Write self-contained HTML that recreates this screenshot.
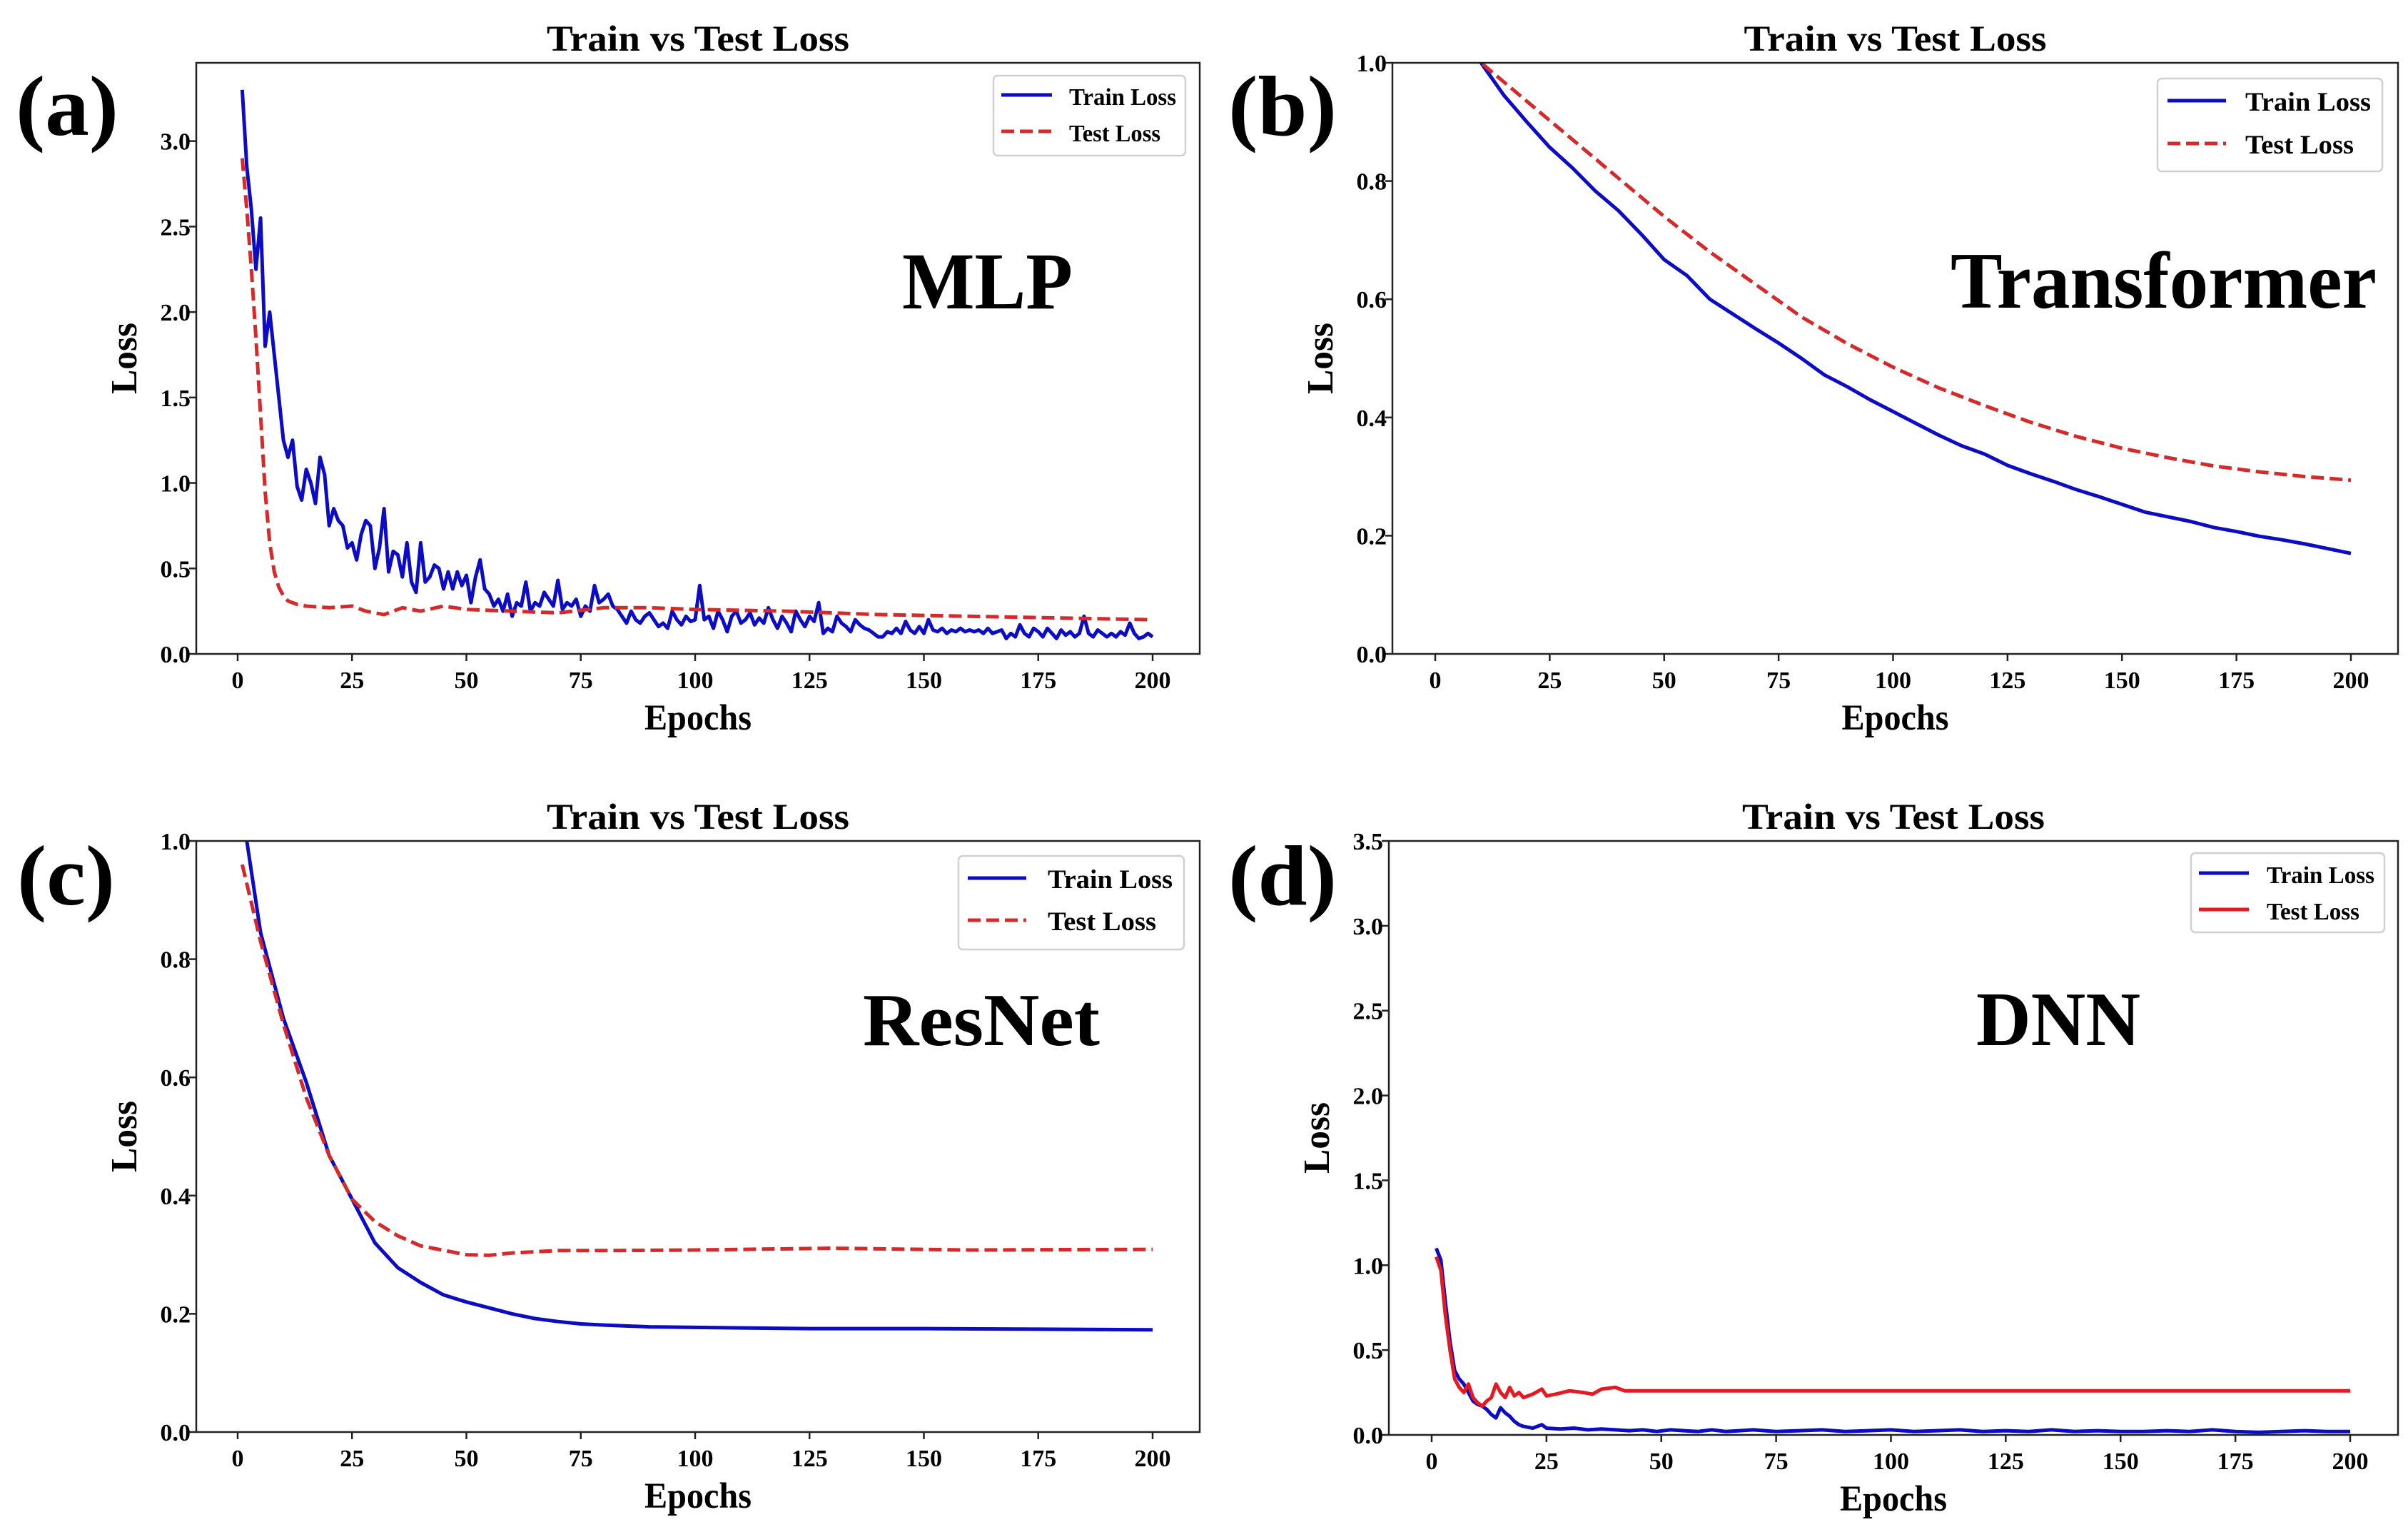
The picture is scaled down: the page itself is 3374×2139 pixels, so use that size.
<!DOCTYPE html>
<html><head><meta charset="utf-8">
<style>
html,body{margin:0;padding:0;background:#fff;}
svg{display:block;}
text{font-family:"Liberation Serif",serif;font-weight:bold;fill:#000;}
</style></head>
<body>
<svg id="fig" xmlns="http://www.w3.org/2000/svg" width="3374" height="2139" viewBox="0 0 3374 2139"></svg>
<script>
// ---------- DATA ----------
const xTicks = [0,25,50,75,100,125,150,175,200];
const yTicksA = [0,0.5,1.0,1.5,2.0,2.5,3.0];
const yTicksB = [0,0.2,0.4,0.6,0.8,1.0];
const yTicksC = [0,0.2,0.4,0.6,0.8,1.0];
const yTicksD = [0,0.5,1.0,1.5,2.0,2.5,3.0,3.5];

// (a) MLP
const mlpTrain = [
3.3,2.85,2.6,2.25,2.55,1.8,2.0,1.75,1.5,1.25,
1.15,1.25,0.98,0.9,1.08,1.0,0.88,1.15,1.05,0.75,
0.85,0.78,0.75,0.62,0.65,0.55,0.7,0.78,0.75,0.5,
0.62,0.85,0.48,0.6,0.58,0.45,0.65,0.42,0.36,0.65,
0.42,0.45,0.52,0.5,0.38,0.48,0.38,0.48,0.4,0.46,
0.3,0.45,0.55,0.38,0.35,0.28,0.32,0.25,0.35,0.22,
0.3,0.28,0.42,0.25,0.3,0.28,0.36,0.32,0.28,0.43,
0.26,0.3,0.28,0.32,0.22,0.28,0.25,0.4,0.3,0.32,
0.35,0.28,0.26,0.22,0.18,
0.25,0.2,0.18,0.22,0.24,0.2,0.16,0.18,0.15,0.25,0.2,0.17,0.22,0.19,0.2,
0.4,0.2,0.22,0.15,0.25,0.2,0.13,0.22,0.25,0.18,0.2,0.24,0.17,0.21,0.18,
0.27,0.2,0.15,0.22,0.18,0.13,0.25,0.2,0.16,0.22,0.19,0.3,0.12,0.15,0.13,
0.22,0.18,0.16,0.13,0.2,0.17,0.15,0.14,0.12,0.1,0.1,0.13,0.12,0.15,0.12,
0.19,0.14,0.12,0.16,0.12,0.2,0.14,0.13,0.15,0.12,0.14,0.13,0.15,0.13,0.14,
0.13,0.14,0.12,0.15,0.12,0.13,0.14,0.09,0.12,0.1,0.17,0.12,0.1,0.15,0.13,
0.1,0.15,0.12,0.09,0.14,0.11,0.13,0.1,0.12,0.22,0.12,0.1,0.14,0.12,0.1,
0.12,0.1,0.13,0.11,0.18,0.12,0.09,0.1,0.12,0.1];
const mlpTrainEpochs = mlpTrain.map((v,i)=>i+1);
const mlpTestEpochs = [1,2,3,4,5,6,7,8,9,10,11,13,15,20,25,28,32,36,40,45,50,60,70,80,90,100,120,140,160,180,200];
const mlpTest = [2.9,2.6,2.25,1.85,1.4,0.95,0.65,0.48,0.39,0.34,0.31,0.29,0.28,0.27,0.28,0.25,0.23,0.27,0.25,0.28,0.26,0.25,0.24,0.27,0.27,0.26,0.25,0.23,0.22,0.21,0.2];

// (b) Transformer
const trEpochs = [1,5,10,15,20,25,30,35,40,45,50,55,60,65,70,75,80,85,90,95,100,105,110,115,120,125,130,135,140,145,150,155,160,165,170,175,180,185,190,195,200];
const trTrain = [1.12,1.06,1.0,0.945,0.9,0.857,0.822,0.783,0.75,0.71,0.667,0.64,0.60,0.575,0.55,0.526,0.5,0.472,0.452,0.43,0.41,0.39,0.37,0.352,0.338,0.319,0.305,0.292,0.278,0.266,0.253,0.24,0.232,0.224,0.214,0.207,0.199,0.193,0.186,0.178,0.17];
const trTestEpochs = [1,5,10,20,30,40,50,60,70,80,90,100,110,120,130,140,150,160,170,180,190,200];
const trTest = [1.1,1.05,1.0,0.935,0.87,0.805,0.74,0.68,0.625,0.57,0.525,0.485,0.45,0.42,0.392,0.368,0.348,0.332,0.318,0.308,0.3,0.294];

// (c) ResNet
const rnTrainEpochs = [1,2,5,10,15,20,25,30,35,40,45,50,55,60,65,70,75,80,90,100,125,150,175,200];
const rnTrain = [1.05,1.0,0.845,0.70,0.592,0.468,0.394,0.32,0.278,0.253,0.232,0.22,0.21,0.2,0.192,0.187,0.183,0.181,0.178,0.177,0.175,0.175,0.174,0.173];
const rnTestEpochs = [1,5,10,15,20,25,30,35,40,50,55,60,70,80,100,130,160,200];
const rnTest = [0.96,0.83,0.69,0.566,0.468,0.394,0.356,0.332,0.315,0.30,0.299,0.303,0.307,0.307,0.308,0.311,0.308,0.309];

// (d) DNN
const dnTrainEpochs = [1,2,3,4,5,6,7,8,9,10,11,12,13,14,15,16,17,18,19,20,22,24,25,28,31,34,37,40,43,46,49,52,55,58,61,64,67,70,75,80,85,90,95,100,105,110,115,120,125,130,135,140,145,150,155,160,165,170,175,180,185,190,195,200];
const dnTrain = [1.10,1.03,0.78,0.55,0.38,0.33,0.3,0.25,0.2,0.18,0.17,0.15,0.12,0.1,0.16,0.13,0.11,0.08,0.06,0.05,0.04,0.06,0.04,0.035,0.04,0.03,0.035,0.03,0.025,0.03,0.02,0.03,0.025,0.02,0.03,0.02,0.025,0.03,0.02,0.025,0.03,0.02,0.025,0.03,0.02,0.025,0.03,0.02,0.025,0.02,0.03,0.02,0.025,0.02,0.02,0.025,0.02,0.03,0.02,0.015,0.02,0.025,0.02,0.02];
const dnTestEpochs = [1,2,3,4,5,6,7,8,9,10,11,12,13,14,15,16,17,18,19,20,22,24,25,27,30,33,35,37,40,42,45,50,100,150,200];
const dnTest = [1.05,0.97,0.7,0.5,0.33,0.28,0.25,0.3,0.22,0.19,0.17,0.2,0.22,0.3,0.25,0.22,0.28,0.23,0.25,0.22,0.24,0.27,0.23,0.24,0.26,0.25,0.24,0.27,0.28,0.26,0.26,0.26,0.26,0.26,0.26];

// ---------- DRAWING ----------
const NS = "http://www.w3.org/2000/svg";
const svg = document.getElementById('fig');
function mk(tag, attrs, parent){
  const e = document.createElementNS(NS, tag);
  for (const k in attrs) e.setAttribute(k, attrs[k]);
  (parent||svg).appendChild(e);
  return e;
}
const BLUE = "#0c0cc4", RED = "#d42a2a", RED2 = "#e41a22";

function panel(p){
  const g = mk('g', {});
  
  
  const xs = v => p.x0 + (v/200)*(p.x200 - p.x0);
  const ys = v => p.bottom - (v/p.ymax)*(p.bottom - p.top);
  // clip
  const cp = mk('clipPath', {id: 'clip-'+p.id}, g);
  mk('rect', {x:p.left, y:p.top, width:p.right-p.left, height:p.bottom-p.top}, cp);
  // series
  p.series.forEach(s=>{
    const d = s.ep.map((e,i)=>(i?'L':'M')+xs(e).toFixed(1)+','+ys(s.val[i]).toFixed(1)).join(' ');
    const path = mk('path', {d:d, fill:'none', stroke:s.color, 'stroke-width':5, 'stroke-linejoin':'round', 'clip-path':'url(#clip-'+p.id+')'}, g);
    if (s.dash) path.setAttribute('stroke-dasharray', '18,8');
    
    
  });
  // frame
  const fr = mk('rect', {x:p.left, y:p.top, width:p.right-p.left, height:p.bottom-p.top, fill:'none', stroke:'#222', 'stroke-width':2.5}, g);
  
  
  // x ticks
  xTicks.forEach(t=>{
    const x = xs(t);
    mk('line', {x1:x, x2:x, y1:p.bottom, y2:p.bottom+10, stroke:'#222', 'stroke-width':2.5}, g);
    const tx = mk('text', {x:x, y:p.bottom+48, 'font-size':34, 'text-anchor':'middle'}, g);
    tx.textContent = t;
    
    
  });
  // y ticks
  p.yticks.forEach(t=>{
    const y = ys(t);
    mk('line', {x1:p.left-10, x2:p.left, y1:y, y2:y, stroke:'#222', 'stroke-width':2.5}, g);
    const ty = mk('text', {x:p.left-8, y:y+12, 'font-size':34, 'text-anchor':'end'}, g);
    ty.textContent = t.toFixed(1);
    
    
  });
  // title
  const cx = (p.left+p.right)/2;
  const ti = mk('text', {x:cx, y:p.top-17, 'font-size':51, 'text-anchor':'middle', textLength:424, lengthAdjust:'spacingAndGlyphs'}, g);
  ti.textContent = 'Train vs Test Loss';
  
  
  // x label
  const xl = mk('text', {x:cx, y:p.bottom+106, 'font-size':51, 'text-anchor':'middle', textLength:150, lengthAdjust:'spacingAndGlyphs'}, g);
  xl.textContent = 'Epochs';
  
  
  // y label
  const cy = (p.top+p.bottom)/2;
  const yl = mk('text', {x:0, y:0, 'font-size':52, 'text-anchor':'middle', textLength:100, lengthAdjust:'spacingAndGlyphs', transform:'translate('+(p.left-84)+','+cy+') rotate(-90)'}, g);
  yl.textContent = 'Loss';
  
  
  // panel letter
  const pl = mk('text', {x:p.lx, y:p.ly, 'font-size':120, textLength:p.lw, lengthAdjust:'spacingAndGlyphs'}, g);
  pl.textContent = p.letter;
  
  
  // model name
  const mn = mk('text', {x:p.mx, y:p.my, 'font-size':p.mfs, textLength:p.mw, lengthAdjust:'spacingAndGlyphs'}, g);
  mn.textContent = p.model;
  
  
  // legend
  const L = p.leg;
  const lg = mk('g', {}, g);
  
  
  mk('rect', {x:L.x, y:L.y, width:L.w, height:L.h, rx:6, fill:'#fff', stroke:'#d0d0d0', 'stroke-width':2.5}, lg);
  p.series.forEach((s,i)=>{
    const y = L.rows[i];
    const ln = mk('line', {x1:L.lx1, x2:L.lx2, y1:y, y2:y, stroke:s.color, 'stroke-width':5}, lg);
    if (s.dash) ln.setAttribute('stroke-dasharray', '18,8');
    
    
    const t = mk('text', {x:L.tx, y:y+14, 'font-size':L.fs, textLength:s.label==='Train Loss'?L.tw1:L.tw2, lengthAdjust:'spacingAndGlyphs'}, lg);
    t.textContent = s.label;
    
    
  });
}

panel({id:'mlp', left:275, right:1681, top:88, bottom:916, x0:333, x200:1615, ymax:3.458, yticks:yTicksA,
  letter:'(a)', lx:22, ly:189, lw:144, model:'MLP', mx:1264, my:432, mfs:113, mw:239,
  leg:{x:1392,y:106,w:269,h:112,lx1:1403,lx2:1474,tx:1498,rows:[133,184],fs:34,tw1:150,tw2:128},
  series:[{ep:mlpTrainEpochs,val:mlpTrain,color:BLUE,name:'train-loss-line',label:'Train Loss'},
          {ep:mlpTestEpochs,val:mlpTest,color:RED,dash:true,name:'test-loss-line',label:'Test Loss'}]});

panel({id:'transformer', left:1951, right:3360, top:88, bottom:916, x0:2011, x200:3294, ymax:1.0, yticks:yTicksB,
  letter:'(b)', lx:1721, ly:189, lw:152, model:'Transformer', mx:2733, my:431, mfs:112, mw:597,
  leg:{x:3023,y:110,w:315,h:130,lx1:3037,lx2:3119,tx:3146,rows:[141,201],fs:37,tw1:176,tw2:152},
  series:[{ep:trEpochs,val:trTrain,color:BLUE,name:'train-loss-line',label:'Train Loss'},
          {ep:trTestEpochs,val:trTest,color:RED,dash:true,name:'test-loss-line',label:'Test Loss'}]});

panel({id:'resnet', left:275, right:1681, top:1178, bottom:2006, x0:333, x200:1615, ymax:1.0, yticks:yTicksC,
  letter:'(c)', lx:24, ly:1267, lw:137, model:'ResNet', mx:1209, my:1464, mfs:105, mw:332,
  leg:{x:1343,y:1199,w:316,h:131,lx1:1356,lx2:1438,tx:1468,rows:[1230,1289],fs:37,tw1:175,tw2:152},
  series:[{ep:rnTrainEpochs,val:rnTrain,color:BLUE,name:'train-loss-line',label:'Train Loss'},
          {ep:rnTestEpochs,val:rnTest,color:RED,dash:true,name:'test-loss-line',label:'Test Loss'}]});

panel({id:'dnn', left:1946, right:3360, top:1178, bottom:2010, x0:2006, x200:3293, ymax:3.5, yticks:yTicksD,
  letter:'(d)', lx:1721, ly:1267, lw:152, model:'DNN', mx:2769, my:1464, mfs:108, mw:230,
  leg:{x:3070,y:1195,w:271,h:111,lx1:3081,lx2:3151,tx:3176,rows:[1223,1274],fs:34,tw1:151,tw2:130},
  series:[{ep:dnTrainEpochs,val:dnTrain,color:BLUE,name:'train-loss-line',label:'Train Loss'},
          {ep:dnTestEpochs,val:dnTest,color:RED2,name:'test-loss-line',label:'Test Loss'}]});
</script>
</body></html>
